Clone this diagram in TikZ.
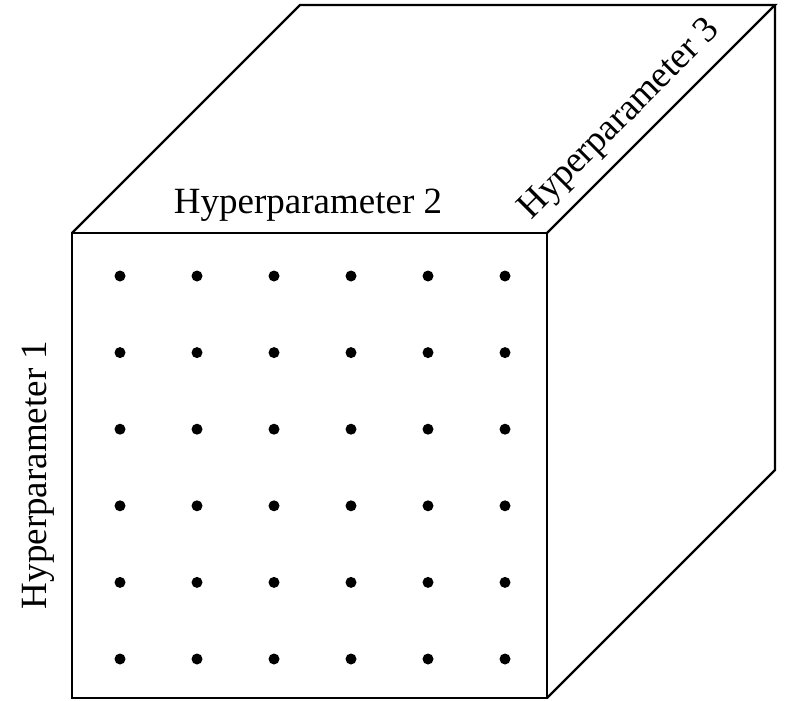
\documentclass[tikz,border=0pt]{standalone}
\usepackage{fontspec}
\setmainfont{Liberation Serif}
\begin{document}
\begin{tikzpicture}[x=1pt,y=-1pt,
  edge/.style={line width=2.4pt,line join=miter},
  gridpt/.style={circle,fill=black,inner sep=0pt,minimum size=11pt},
  axislabel/.style={font=\fontsize{37}{44}\selectfont,inner sep=0pt,anchor=base}]
\useasboundingbox (0,0) rectangle (785,701);
% front face
\coordinate (ftl) at (72,233);
\coordinate (ftr) at (547,233);
\coordinate (fbr) at (547,698);
\coordinate (fbl) at (72,698);
% back corners
\coordinate (btl) at (300,5);
\coordinate (btr) at (775,5);
\coordinate (bbr) at (775,470);
\draw[edge] (ftl) -- (ftr) -- (fbr) -- (fbl) -- cycle;
\draw[edge] (ftl) -- (btl) -- (btr) -- (ftr);
\draw[edge] (btr) -- (bbr) -- (fbr);
% grid points
\foreach \i in {0,...,5}{
  \foreach \j in {0,...,5}{
    \node[gridpt] (p\i\j) at ({120+77*\i},{276+76.6*\j}) {};
  }
}
% labels
\node[axislabel] (h2) at (308,213) {Hyperparameter 2};
\node[axislabel,rotate=90] (h1) at (46,475) {Hyperparameter 1};
\node[axislabel,rotate=45] (h3) at (626,126) {Hyperparameter 3};
\end{tikzpicture}
\end{document}
